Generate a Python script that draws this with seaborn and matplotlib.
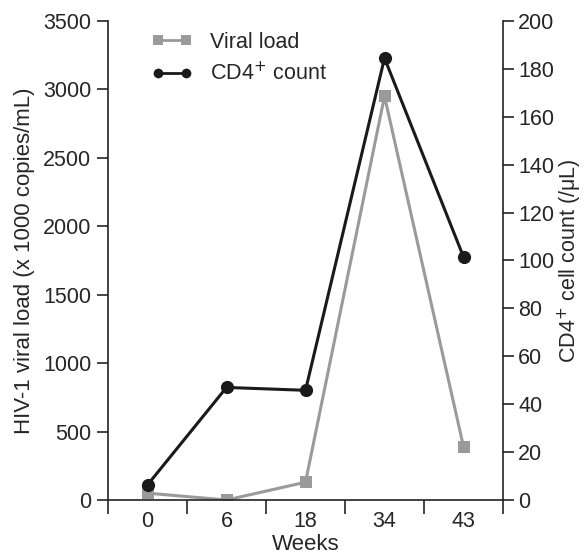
import matplotlib
matplotlib.use("Agg")
import matplotlib.pyplot as plt
import seaborn as sns
import numpy as np
from matplotlib.lines import Line2D

# data
weeks = ["0", "6", "18", "34", "43"]
viral_load = [50, 0, 130, 2950, 390]          # x 1000 copies/mL
cd4_count = [6.3, 47, 45.8, 184.5, 101.5]      # cells/uL

sns.set_style("ticks")
plt.rcParams["font.family"] = ["Liberation Sans", "DejaVu Sans"]
plt.rcParams["font.size"] = 15.5

gray = "#9a9a9a"
black = "#1a1a1a"

fig = plt.figure(figsize=(5.86, 5.54), dpi=100)
ax = fig.add_axes([108 / 586, 1 - 500 / 554, (503 - 108) / 586, (500 - 21) / 554])
ax2 = ax.twinx()

pos = np.arange(len(weeks))
sns.lineplot(x=pos, y=viral_load, ax=ax, color=gray, lw=2.2, marker="s",
             markersize=8, markeredgewidth=0, zorder=2)
sns.lineplot(x=pos, y=cd4_count, ax=ax2, color=black, lw=2.2, marker="o",
             markersize=9.5, markeredgewidth=0, zorder=3)

ax.set_xlim(-0.5, 4.5)
ax.set_ylim(0, 3500)
ax2.set_ylim(0, 200)
ax.set_yticks(range(0, 3501, 500))
ax2.set_yticks(range(0, 201, 20))
ax.set_xticks(pos)
ax.set_xticklabels(weeks)
ax.set_xticks(np.arange(-0.5, 5, 1), minor=True)
ax.tick_params(axis="x", which="major", length=0, pad=8)
ax.tick_params(axis="x", which="minor", length=10, width=1.2, direction="out")
ax.tick_params(axis="y", length=8, width=1.2, direction="out", pad=4)
ax2.tick_params(axis="y", length=8, width=1.2, direction="out", pad=3)

for a in (ax, ax2):
    a.spines["top"].set_visible(False)
    for s in a.spines.values():
        s.set_linewidth(1.2)
        s.set_color("#222222")
ax.spines["right"].set_visible(False)
ax2.spines["left"].set_visible(False)
ax2.spines["bottom"].set_visible(False)

ax.set_xlabel("Weeks", labelpad=1, fontsize=16)
ax.set_ylabel("HIV-1 viral load (x 1000 copies/mL)", labelpad=6, fontsize=16)
ax2.set_ylabel("CD4$^{+}$ cell count (/\u03bcL)", labelpad=1, fontsize=15.5)

handles = [
    Line2D([0], [0], color=gray, lw=2, marker="s", markersize=6.5, markeredgewidth=0),
    Line2D([0], [0], color=black, lw=2, marker="o", markersize=7, markeredgewidth=0),
]
ax2.legend(handles, ["Viral load", "CD4$^{+}$ count"], loc="upper left",
           bbox_to_anchor=(0.11, 0.978), frameon=False, numpoints=2,
           borderpad=0, borderaxespad=0,
           handlelength=1.9, handletextpad=0.8, labelspacing=0.45)

fig.savefig("out.png", dpi=100)
